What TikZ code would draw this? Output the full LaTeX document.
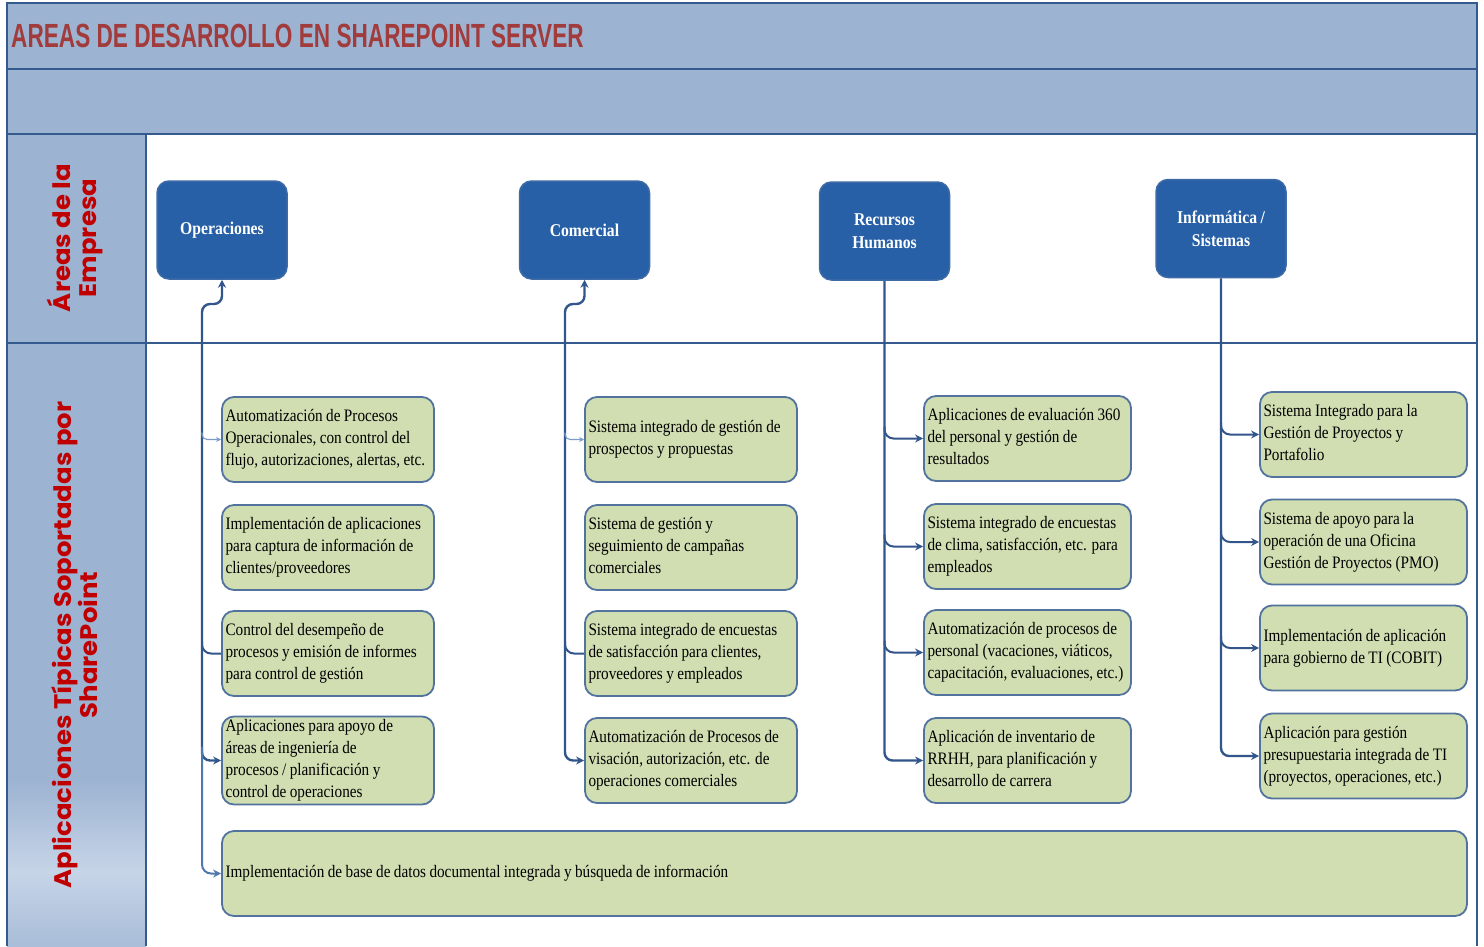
\documentclass[tikz,border=0pt]{standalone}
\usepackage{fontspec}
\setmainfont{Liberation Serif}
\newfontfamily\boxfont{Liberation Serif}[FakeStretch=0.87, WordSpace=0.9]
\newfontfamily\titlefont{Liberation Sans}[FakeStretch=0.675]
\newfontfamily\sidefont{Poppins}[FakeStretch=1.08]
\usetikzlibrary{arrows.meta}
\definecolor{bandblue}{HTML}{9DB3D2}
\definecolor{bandlight}{HTML}{C6D4E7}
\definecolor{bandlow}{HTML}{A9BDD8}
\definecolor{linedark}{HTML}{345A8E}
\definecolor{areablue}{HTML}{2760A6}
\definecolor{areaborder}{HTML}{3E6BA6}
\definecolor{appgreen}{HTML}{D1DEB2}
\definecolor{appborder}{HTML}{52739E}
\definecolor{conn}{HTML}{32568C}
\definecolor{connmid}{HTML}{5178AE}
\definecolor{connlight}{HTML}{7B9CCB}
\definecolor{titlered}{HTML}{A23B3B}
\definecolor{sidered}{HTML}{C00000}
\newcommand{\mlines}[1]{\begin{tabular}{@{}l@{}}#1\end{tabular}}
\newcommand{\bxA}[1]{\makebox[205pt][l]{\mlines{#1}}}
\newcommand{\bxB}[1]{\makebox[200pt][l]{\mlines{#1}}}
\tikzset{
  frame/.style={draw=linedark, line width=2pt},
  area/.style={rounded corners=12pt, fill=areablue, draw=areaborder, line width=1.5pt,
    minimum width=130pt, minimum height=98pt, text=white, align=center,
    font=\boxfont\bfseries\fontsize{18}{23}\selectfont},
  app/.style={rounded corners=12pt, fill=appgreen, draw=appborder, line width=1.8pt,
    inner xsep=3.5pt, inner ysep=0pt, minimum height=85pt, text=black,
    font=\boxfont\fontsize{17.5}{22}\selectfont},
  side/.style={rotate=90, text=sidered, align=center,
    font=\sidefont\bfseries\fontsize{24}{26}\selectfont},
  trunk/.style={draw=conn, line width=2.4pt, rounded corners=8pt},
  branch/.style={draw=conn, line width=2pt, rounded corners=9pt},
  arr/.style={-{Stealth[length=8pt,width=8pt]}},
  tip/.style={{Stealth[length=8pt,width=8pt]}-{Stealth[length=8pt,width=8pt]}},
  thinbranch/.style={draw=connlight, line width=1.1pt, rounded corners=5pt,
    -{Stealth[length=5pt,width=5pt]}},
}
\begin{document}
\begin{tikzpicture}[x=1pt,y=-1pt]
\useasboundingbox (0,0) rectangle (1484,946);
\fill[white] (0,0) rectangle (1484,946);
% bands
\fill[bandblue] (7,3) rectangle (1477,134);
\fill[bandblue] (7,134) rectangle (146,780);
\shade[top color=bandblue, bottom color=bandlight] (7,780) rectangle (146,872);
\shade[top color=bandlight, bottom color=bandlow] (7,872) rectangle (146,946);
% frame lines
\draw[frame] (7,946) -- (7,3) -- (1477,3) -- (1477,946);
\draw[frame] (7,69) -- (1477,69);
\draw[frame] (7,134) -- (1477,134);
\draw[frame] (7,343) -- (1477,343);
\draw[frame] (146,134) -- (146,946);
% title
\node[anchor=base west, inner sep=0pt, text=titlered,
  font=\titlefont\bfseries\fontsize{33.5}{36}\selectfont] (title) at (11,47)
  {AREAS DE DESARROLLO EN SHAREPOINT SERVER};
% side labels
\node[side] (s1) at (75,238) {Áreas de la\\Empresa};
\node[side] (s2) at (75,645) {Aplicaciones Típicas Soportadas por\\SharePoint};
% area boxes
\node[area] (op) at (222,230) {Operaciones};
\node[area] (co) at (584.5,230) {Comercial};
\node[area] (rh) at (884.5,231) {Recursos\\Humanos};
\node[area] (is) at (1221,228.5) {Informática /\\Sistemas};
% column 1
\node[app] (a1) at (328,439.5) {\bxA{Automatización de Procesos\\Operacionales, con control del\\flujo, autorizaciones, alertas, etc.}};
\node[app] (a2) at (328,547.5) {\bxA{Implementación de aplicaciones\\para captura de información de\\clientes/proveedores}};
\node[app] (a3) at (328,653.5) {\bxA{Control del desempeño de\\procesos y emisión de informes\\para control de gestión}};
\node[app] (a4) at (328,760.5) {\bxA{Aplicaciones para apoyo de\\áreas de ingeniería de\\procesos / planificación y\\control de operaciones}};
% column 2
\node[app] (c1) at (691,439.5) {\bxA{Sistema integrado de gestión de\\prospectos y propuestas}};
\node[app] (c2) at (691,547.5) {\bxA{Sistema de gestión y\\seguimiento de campañas\\comerciales}};
\node[app] (c3) at (691,653.5) {\bxA{Sistema integrado de encuestas\\de satisfacción para clientes,\\proveedores y empleados}};
\node[app] (c4) at (691,760.5) {\bxA{Automatización de Procesos de\\visación, autorización, etc. de\\operaciones comerciales}};
% column 3
\node[app] (r1) at (1027.5,438.5) {\bxB{Aplicaciones de evaluación 360\\del personal y gestión de\\resultados}};
\node[app] (r2) at (1027.5,546.5) {\bxB{Sistema integrado de encuestas\\de clima, satisfacción, etc. para\\empleados}};
\node[app] (r3) at (1027.5,652.5) {\bxB{Automatización de procesos de\\personal (vacaciones, viáticos,\\capacitación, evaluaciones, etc.)}};
\node[app] (r4) at (1027.5,760.5) {\bxB{Aplicación de inventario de\\RRHH, para planificación y\\desarrollo de carrera}};
% column 4
\node[app] (i1) at (1363.5,434.5) {\bxB{Sistema Integrado para la\\Gestión de Proyectos y\\Portafolio}};
\node[app] (i2) at (1363.5,542) {\bxB{Sistema de apoyo para la\\operación de una Oficina\\Gestión de Proyectos (PMO)}};
\node[app] (i3) at (1363.5,648) {\bxB{Implementación de aplicación\\para gobierno de TI (COBIT)}};
\node[app] (i4) at (1363.5,756) {\bxB{Aplicación para gestión\\presupuestaria integrada de TI\\(proyectos, operaciones, etc.)}};
% bottom box
\node[app] (bd) at (844.5,873.5) {\makebox[1238pt][l]{Implementación de base de datos documental integrada y búsqueda de información}};
% trunk bend coordinates
\coordinate (k1) at (202,304);
\coordinate (k2) at (565,304);
% column 1 connectors
\draw[trunk, tip] (a4.west) -| (k1) -- (k1 -| op.south) -- (op.south);
\draw[branch, arr, draw=connmid] ([yshift=14pt]k1 |- a4.west) |- (bd.west);
\draw[thinbranch] ([yshift=7pt]k1 |- a1.west) |- (a1.west);
\draw[branch] ([yshift=12pt]k1 |- a3.west) |- (a3.west);
% column 2 connectors
\draw[trunk, tip] (c4.west) -| (k2) -- (k2 -| co.south) -- (co.south);
\draw[thinbranch] ([yshift=7pt]k2 |- c1.west) |- (c1.west);
\draw[branch] ([yshift=12pt]k2 |- c3.west) |- (c3.west);
% column 3 connectors
\draw[trunk, arr] (rh.south) |- (r4.west);
\foreach \b in {r1,r2,r3}
  \draw[branch, arr] ([yshift=12pt]rh.south |- \b.west) |- (\b.west);
% column 4 connectors
\draw[trunk, arr] (is.south) |- (i4.west);
\foreach \b in {i1,i2,i3}
  \draw[branch, arr] ([yshift=12pt]is.south |- \b.west) |- (\b.west);
\end{tikzpicture}
\end{document}
